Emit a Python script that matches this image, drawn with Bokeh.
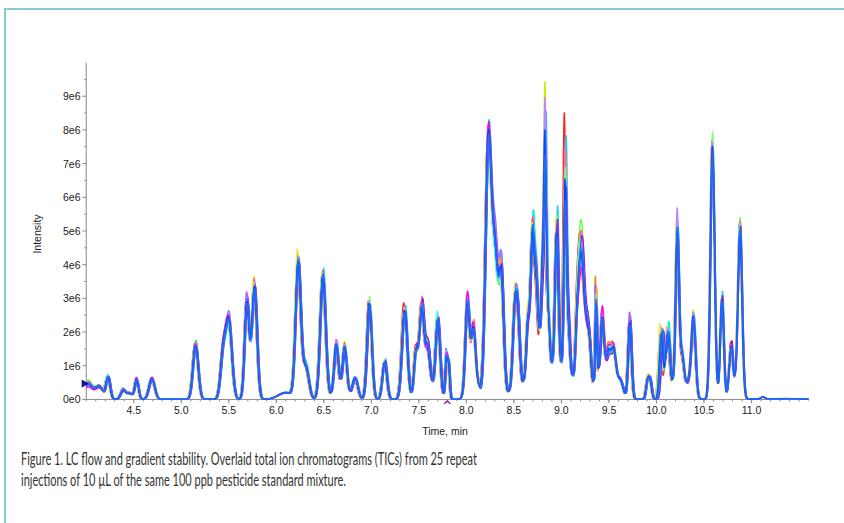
import numpy as np
from bokeh.plotting import figure
from bokeh.models import Range1d, FixedTicker, Div, ColumnDataSource
from bokeh.layouts import column
from bokeh.core.properties import value
from bokeh.embed import file_html
from bokeh.resources import INLINE

# ---- peak table (time in min, apex in counts) ----
peak_rt = [4.02, 4.14, 4.23, 4.39, 4.46, 4.53, 4.69, 5.15, 5.44, 5.50, 5.69, 5.77,
           6.10, 6.23, 6.31, 6.49, 6.68, 6.63, 6.72, 6.83, 6.98, 7.14, 7.35, 7.47,
           7.53, 7.59, 7.63, 7.70, 7.79, 7.815, 8.01, 8.075, 8.07, 8.23, 8.30, 8.37,
           8.90, 8.51, 8.545, 8.645, 8.695, 8.735, 8.78, 8.80, 8.83, 8.865, 8.95, 9.04,
           9.075, 9.16, 9.19, 9.225, 9.27, 9.30, 9.365, 9.45, 9.43, 9.50, 9.55, 9.62,
           9.72, 9.905, 9.935, 10.055, 10.12, 10.20, 10.22, 10.27, 10.34, 10.39, 10.59,
           10.69, 10.765, 10.79, 10.83, 10.88, 11.12, 11.35]
peak_height_e6 = [0.45, 0.35, 0.64, 0.27, 0.17, 0.58, 0.60, 1.58, 1.25, 2.25, 2.85, 3.30,
                  0.20, 4.00, 0.95, 3.65, 0.30, 1.38, 1.30, 0.60, 2.80, 1.08, 2.60, 1.35,
                  2.65, 1.35, 0.30, 2.30, 1.20, 0.90, 2.50, 1.30, 0.80, 7.20, 4.20, 3.10,
                  1.00, 2.40, 1.65, 1.55, 4.10, 1.75, 1.00, 1.80, 5.40, 1.20, 3.90, 5.20,
                  1.20, 1.00, 2.75, 2.80, 1.65, 0.80, 2.20, 1.00, 1.35, 0.50, 1.05, 0.50,
                  2.25, 0.52, 0.52, 1.95, 1.85, 0.50, 4.50, 1.00, 0.50, 2.15, 7.40,
                  2.95, 0.50, 1.35, 0.40, 5.00, 0.05, 0.025]
peak_sigma = [0.05, 0.04, 0.022, 0.028, 0.028, 0.02, 0.03, 0.028, 0.028, 0.032, 0.024, 0.027,
              0.08, 0.028, 0.032, 0.029, 0.07, 0.022, 0.022, 0.028, 0.025, 0.024, 0.028, 0.022,
              0.024, 0.025, 0.04, 0.024, 0.013, 0.011, 0.022, 0.02, 0.05, 0.03, 0.035, 0.024,
              0.25, 0.022, 0.019, 0.017, 0.021, 0.016, 0.04, 0.013, 0.014, 0.013, 0.018, 0.015,
              0.015, 0.015, 0.021, 0.021, 0.02, 0.015, 0.009, 0.07, 0.016, 0.02, 0.025, 0.03,
              0.018, 0.016, 0.016, 0.019, 0.021, 0.05, 0.018, 0.02, 0.04, 0.022, 0.022,
              0.019, 0.015, 0.016, 0.02, 0.022, 0.02, 0.3]
# relative scatter of each apex between the 25 injections
peak_spread = [0.18, 0.14, 0.08, 0.15, 0.15, 0.08, 0.08, 0.07, 0.10, 0.07, 0.07, 0.07,
               0.08, 0.06, 0.07, 0.06, 0.07, 0.08, 0.08, 0.08, 0.06, 0.08, 0.07, 0.08,
               0.07, 0.10, 0.07, 0.07, 0.12, 0.12, 0.08, 0.10, 0.07, 0.05, 0.10, 0.12,
               0.05, 0.10, 0.12, 0.15, 0.12, 0.15, 0.10, 0.20, 0.40, 0.20, 0.15, 0.30,
               0.20, 0.20, 0.20, 0.15, 0.15, 0.15, 0.25, 0.10, 0.15, 0.15, 0.12, 0.10,
               0.10, 0.10, 0.10, 0.10, 0.10, 0.10, 0.10, 0.10, 0.10, 0.10, 0.05,
               0.06, 0.10, 0.10, 0.10, 0.05, 0.10, 0.10]
# retention-time scatter (min)
peak_drift = [0, 0, 0.01, 0.01, 0.01, 0.01, 0.01, 0.01, 0.01, 0.01, 0.01, 0.01,
              0, 0.01, 0.01, 0.01, 0, 0.01, 0.01, 0.01, 0.01, 0.01, 0.01, 0.01,
              0.01, 0.01, 0, 0.01, 0.01, 0.01, 0.01, 0.01, 0, 0.01, 0.01, 0.01,
              0, 0.01, 0.01, 0.01, 0.01, 0.01, 0, 0.01, 0.01, 0.01, 0.01, 0.01,
              0.01, 0.01, 0.01, 0.01, 0.01, 0.01, 0.01, 0, 0.01, 0.01, 0.01, 0.01,
              0.01, 0.01, 0.01, 0.02, 0.012, 0.008, 0.008, 0.008, 0.008, 0.008, 0.006,
              0.006, 0.006, 0.006, 0.006, 0.006, 0, 0]

# per-injection deviation (height), lag (time) and scatter weight
injection_dev = [0.9, -0.4, 0.3, -0.7, 1.5, 0.1, -0.2, 0.6, -0.9, 0.2, -0.3, 1.1, -0.5,
                 0.4, -0.1, 0.8, -0.6, 0.0, 0.5, -1.0, 0.2, -0.2, 0.1, -0.3, 0.0]
injection_lag = [-1.0, -0.8, -0.5, -0.2, 0.2, 0.5, 0.8, 1.0, -0.7, -0.3, 0.0, 0.3, 0.7,
                 -0.9, 0.2, -0.5, 0.5, -0.2, 0.9, 0.0, 0.3, -0.3, 0.1, 0.0, 0.1]
injection_weight = [1, 1, 1, 1, 1, 1, 1, 1, 1, 1, 1, 1, 1, 1, 1, 1, 1, 1, 1, 1,
                    0.3, 0.3, 0.25, 0.25, 0.2]
injection_colors = ["#ff2020", "#ff7a00", "#ffd400", "#c8f000", "#5cff3a", "#00e07a",
                    "#00f0d0", "#20c8ff", "#a060ff", "#e040ff", "#ff40c0", "#ff6a8a",
                    "#ffa040", "#e8e840", "#80ff80", "#40ffe0", "#8080ff", "#c080ff",
                    "#9020e0", "#ff00ff", "#00b4ff", "#0050ff", "#2a8cff", "#1040ff",
                    "#1e6cf5"]

t_start, t_end = 4.0, 11.6
x_ticks = [4.5, 5.0, 5.5, 6.0, 6.5, 7.0, 7.5, 8.0, 8.5, 9.0, 9.5, 10.0, 10.5, 11.0]
x_tick_labels = ["4.5", "5.0", "5.5", "6.0", "6.5", "7.0", "7.5", "8.0", "8.5", "9.0",
                 "9.5", "10.0", "10.5", "11.0"]
y_top = 1.0e7
y_ticks = [0, 1e6, 2e6, 3e6, 4e6, 5e6, 6e6, 7e6, 8e6, 9e6]
y_tick_labels = ["0e0", "1e6", "2e6", "3e6", "4e6", "5e6", "6e6", "7e6", "8e6", "9e6"]

# instrument markers: start-of-trace level (left) and an event marker under the time axis
start_marker_t = [3.975]
start_marker_e6 = [0.47]
event_marker_t = [7.8]
event_marker_text = ["^"]

caption_line1 = "Figure 1. LC flow and gradient stability. Overlaid total ion chromatograms (TICs) from 25 repeat"
caption_line2 = "injections of 10 \u00b5L of the same 100 ppb pesticide standard mixture."

# ---- build the 25 overlaid traces from the peak table ----
t = np.arange(t_start, t_end + 1e-9, 0.002)
xs, ys = [], []
n = len(injection_dev)
for i in range(n):
    y = np.zeros_like(t)
    for k in range(len(peak_rt)):
        d = injection_dev[(i + 7 * k) % n] * injection_weight[i]
        h = peak_height_e6[k] * 1e6 * (1 + peak_spread[k] * d)
        c = peak_rt[k] + peak_drift[k] * injection_lag[i]
        y += h * np.exp(-0.5 * ((t - c) / peak_sigma[k]) ** 2)
    xs.append(t)
    ys.append(y)

src = ColumnDataSource(dict(xs=xs, ys=ys, color=injection_colors))

p = figure(width=830, height=433, x_range=Range1d(3.95, t_end), y_range=Range1d(-0.18e6, y_top),
           output_backend="svg", toolbar_location=None,
           min_border_left=75, min_border_right=28, min_border_top=52, min_border_bottom=38)

# pixel sizes converted to data units for the drawn axis lines / ticks
px_x = (t_end - 3.95) / 727.0
px_y = (y_top + 0.18e6) / 343.0
axis_col = "#8a8a8a"
minor_x = [round(4.0 + 0.1 * j, 2) for j in range(0, 77)]
minor_y = [0.5e6 + 1e6 * j for j in range(10)]
p.segment(x0=[t_start], y0=[0], x1=[t_end], y1=[0], line_color=axis_col, line_width=1)
p.segment(x0=[t_start], y0=[0], x1=[t_start], y1=[y_top], line_color=axis_col, line_width=1)
p.segment(x0=x_ticks, y0=[0] * len(x_ticks), x1=x_ticks, y1=[-4 * px_y] * len(x_ticks),
          line_color=axis_col, line_width=1)
p.segment(x0=minor_x, y0=[0] * len(minor_x), x1=minor_x, y1=[-2 * px_y] * len(minor_x),
          line_color=axis_col, line_width=1)
p.segment(x0=[t_start] * len(y_ticks), y0=y_ticks, x1=[t_start - 4 * px_x] * len(y_ticks),
          y1=y_ticks, line_color=axis_col, line_width=1)
p.segment(x0=[t_start] * len(minor_y), y0=minor_y, x1=[t_start - 2 * px_x] * len(minor_y),
          y1=minor_y, line_color=axis_col, line_width=1)

p.multi_line(xs="xs", ys="ys", line_color="color", line_width=1.3, source=src)

p.scatter(x=start_marker_t, y=[v * 1e6 for v in start_marker_e6], marker="triangle",
          angle=-np.pi / 2, size=7, fill_color="#14148c", line_color="#14148c")
p.text(x=event_marker_t, y=[0], text=event_marker_text, text_color="#8b1a8b",
       text_font=value("DejaVu Sans"), text_font_size="12px", text_font_style="bold",
       text_align="center", text_baseline="top")

p.outline_line_color = None
p.xgrid.visible = False
p.ygrid.visible = False
p.background_fill_color = "white"
p.border_fill_color = "white"

p.xaxis.ticker = FixedTicker(ticks=x_ticks)
p.xaxis.major_label_overrides = {tk: lb for tk, lb in zip(x_ticks, x_tick_labels)}
p.yaxis.ticker = FixedTicker(ticks=y_ticks)
p.yaxis.major_label_overrides = {tk: lb for tk, lb in zip(y_ticks, y_tick_labels)}

for ax in (p.xaxis[0], p.yaxis[0]):
    ax.axis_line_color = None
    ax.major_tick_line_color = None
    ax.minor_tick_line_color = None
    ax.major_tick_out = 0
    ax.major_tick_in = 0
    ax.minor_tick_out = 0
    ax.minor_tick_in = 0
    ax.major_label_text_font = "Liberation Sans"
    ax.major_label_text_font_size = "10.5px"
    ax.major_label_text_color = "#1a1a1a"
    ax.axis_label_text_font = "Liberation Sans"
    ax.axis_label_text_font_size = "10.5px"
    ax.axis_label_text_font_style = "normal"
    ax.axis_label_text_color = "#1a1a1a"

p.xaxis.major_label_standoff = 0
p.yaxis.major_label_standoff = 1
p.xaxis.axis_label = "Time, min"
p.xaxis.axis_label_standoff = 8
p.yaxis.axis_label = "Intensity"
p.yaxis.axis_label_standoff = 17

caption = Div(
    text=('<div style="font-family: Lato, sans-serif; font-size:18px; line-height:20.7px; '
          'color:#333333; white-space:nowrap; transform:scaleX(0.61); transform-origin:0 0; '
          'margin:0px 0 0 10px;">' + caption_line1 + '<br>' + caption_line2 + '</div>'),
    width=830, height=78, styles={"overflow": "hidden"})

layout = column(p, caption, styles={"border-top": "2px solid #84cbd3",
                                    "border-left": "2px solid #84cbd3",
                                    "margin-left": "4px", "margin-top": "8px"})

open("out.html", "w").write(file_html(layout, INLINE))
